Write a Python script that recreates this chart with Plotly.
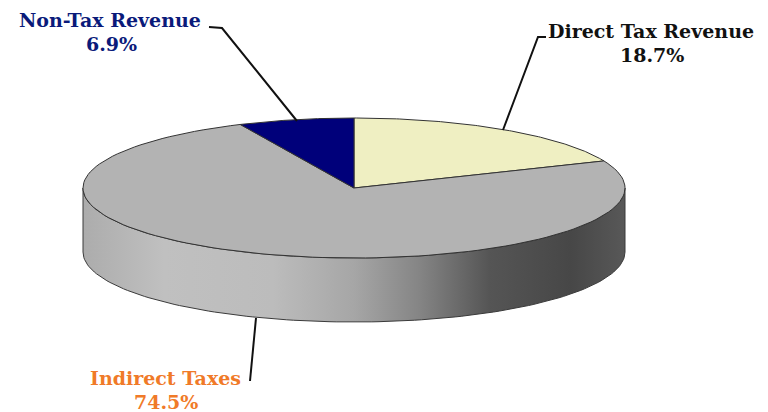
import numpy as np
import plotly.graph_objects as go

# ---- data ----
categories = ["Direct Tax Revenue", "Indirect Taxes", "Non-Tax Revenue"]
values = [18.7, 74.5, 6.9]
pct_labels = ["18.7%", "74.5%", "6.9%"]

# ---- styles ----
top_colors = ["#efefc2", "#b3b3b3", "#00007a"]
label_colors = ["#111111", "#f07a28", "#0a1a7a"]
side_scale = [[0.0, "#acacac"], [0.15, "#c0c0c0"], [0.35, "#bcbcbc"], [0.5, "#a6a6a6"],
              [0.62, "#858585"], [0.75, "#555555"], [0.9, "#474747"], [1.0, "#585858"]]

# page has an 8px body margin; use screen pixel coordinates on the axes
OFF = 8
W, H = 768 - OFF, 412 - OFF
cx, cy, rx, ry, depth = 354, 188, 271, 70, 64


def arc(a0, a1, dy=0, n=120):
    t = np.radians(np.linspace(a0, a1, n))
    return cx + rx * np.sin(t), cy - ry * np.cos(t) + dy


total = sum(values)
angles = np.concatenate([[0], np.cumsum(values) / total * 360])

fig = go.Figure()

# side walls (front half visible: 90..270 deg clockwise from top)
for i in range(len(values)):
    a0, a1 = max(angles[i], 90), min(angles[i + 1], 270)
    if a1 <= a0:
        continue
    xt, yt = arc(a0, a1)
    xb, yb = arc(a1, a0, depth)
    xs = np.concatenate([xt, xb, [xt[0]]])
    ys = np.concatenate([yt, yb, [yt[0]]])
    fig.add_trace(go.Scatter(
        x=xs, y=ys, mode="lines", fill="toself",
        fillgradient=dict(type="horizontal", colorscale=side_scale,
                          start=cx - rx, stop=cx + rx),
        line=dict(color="#3a3a3a", width=1), hoverinfo="skip", showlegend=False))

# top face slices
for i in range(len(values)):
    xa, ya = arc(angles[i], angles[i + 1])
    xs = np.concatenate([[cx], xa, [cx]])
    ys = np.concatenate([[cy], ya, [cy]])
    fig.add_trace(go.Scatter(
        x=xs, y=ys, mode="lines", fill="toself", fillcolor=top_colors[i],
        line=dict(color="#333333", width=1), name=categories[i],
        hoverinfo="name", showlegend=False))

# labels
label_pos = [(651, 31), (165, 378), (110, 20)]
for i in range(len(values)):
    x, y = label_pos[i]
    fig.add_annotation(x=x, y=y, text="<b>" + categories[i] + "</b>", showarrow=False,
                       font=dict(family="DejaVu Serif", size=19, color=label_colors[i]),
                       xanchor="center", yanchor="middle")
    fig.add_annotation(x=x + 1, y=y + 24, text="<b>" + pct_labels[i] + "</b>", showarrow=False,
                       font=dict(family="DejaVu Serif", size=19, color=label_colors[i]),
                       xanchor="center", yanchor="middle")

# leader lines
leaders = [
    [(546, 37), (538, 37), (503, 130)],
    [(250, 381), (256, 318)],
    [(209, 27), (222, 28), (297, 121)],
]
for pts in leaders:
    fig.add_trace(go.Scatter(x=[p[0] for p in pts], y=[p[1] for p in pts], mode="lines",
                             line=dict(color="#111111", width=2), hoverinfo="skip",
                             showlegend=False))

fig.update_layout(
    width=W, height=H, margin=dict(l=0, r=0, t=0, b=0),
    paper_bgcolor="white", plot_bgcolor="white",
    xaxis=dict(range=[OFF, OFF + W], visible=False, fixedrange=True),
    yaxis=dict(range=[OFF + H, OFF], visible=False, fixedrange=True),
)

fig.write_html("out.html")
